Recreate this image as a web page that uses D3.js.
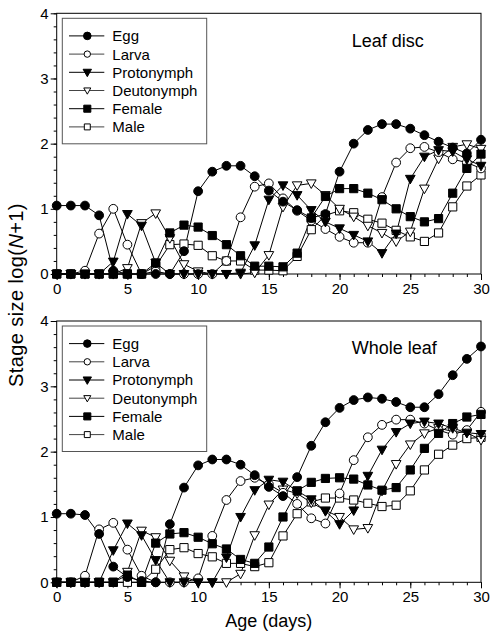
<!DOCTYPE html>
<html>
<head>
<meta charset="utf-8">
<script src="https://cdn.jsdelivr.net/npm/d3@7"></script>
<style>
  body { margin: 0; background: #fff; }
  svg text { font-family: "Liberation Sans", Arial, sans-serif; fill: #000; }
</style>
</head>
<body>
<div id="chart"></div>
<script>
// mite stage sizes by age, leaf disc vs whole leaf

const days = [0,1,2,3,4,5,6,7,8,9,10,11,12,13,14,15,16,17,18,19,20,21,22,23,24,25,26,27,28,29,30];
const stages = ["Egg", "Larva", "Protonymph", "Deutonymph", "Female", "Male"];
const panelLabels = ["Leaf disc", "Whole leaf"];
const xTicks = [0, 5, 10, 15, 20, 25, 30];
const yTicks = [0, 1, 2, 3, 4];

// leaf disc (top)
const discEgg    = [1.05,1.05,1.05,0.9,0.05,0,0,0,0,0.35,1.27,1.57,1.66,1.66,1.5,1.28,1.11,0.98,0.86,0.92,1.57,2.0,2.21,2.30,2.30,2.23,2.13,2.03,1.94,1.85,2.06];
const discLarva  = [0,0,0.05,0.62,1.0,0.45,0,0.04,0,0,0,0,0.2,0.87,1.34,1.39,1.16,0.97,0.82,0.69,0.57,0.48,0.48,1.18,1.71,1.93,1.95,1.87,1.76,1.71,1.62];
const discProto  = [0,0,0,0,0.19,0.92,0.74,0.17,0,0,0,0,0,0.02,0.44,1.14,1.36,1.21,0.98,0.8,0.7,0.6,0.5,0.32,0.62,1.46,1.8,1.9,1.88,1.76,1.66];
const discDeuto  = [0,0,0,0,0,0.09,0.78,0.93,0.55,0.15,0.04,0,0,0,0.02,0.29,1.03,1.36,1.39,1.21,1.0,0.88,0.74,0.63,0.5,0.65,1.31,1.77,1.95,1.99,1.92];
const discFemale = [0,0,0,0,0,0,0,0.17,0.63,0.75,0.72,0.59,0.45,0.28,0.12,0.12,0.11,0.32,0.86,1.19,1.31,1.31,1.24,1.14,1.0,0.88,0.8,0.85,1.24,1.62,1.84];
const discMale   = [0,0,0,0,0,0,0,0.12,0.45,0.46,0.44,0.28,0.2,0.2,0.06,0.06,0.05,0.27,0.68,0.9,0.97,0.94,0.84,0.78,0.67,0.57,0.5,0.63,1.03,1.35,1.52];

// whole leaf (bottom)
const wholeEgg    = [1.05,1.05,1.03,0.74,0.24,0.08,0.02,0,0.89,1.45,1.79,1.88,1.88,1.8,1.64,1.46,1.32,1.61,2.09,2.45,2.67,2.79,2.83,2.81,2.76,2.68,2.68,2.88,3.17,3.42,3.61];
const wholeLarva  = [0,0,0.1,0.81,0.91,0.5,0.1,0,0,0,0.06,0.71,1.26,1.55,1.6,1.5,1.37,1.2,0.98,0.9,1.36,1.87,2.22,2.41,2.49,2.49,2.43,2.33,2.26,2.33,2.61];
const wholeProto  = [0,0,0,0,0.49,0.9,0.72,0.34,0,0,0,0,0.38,1.0,1.41,1.57,1.54,1.4,1.27,1.09,0.89,1.1,1.63,2.03,2.3,2.43,2.46,2.43,2.36,2.29,2.27];
const wholeDeuto  = [0,0,0,0,0,0.16,0.79,0.69,0.33,0.09,0,0,0,0.13,0.72,1.19,1.42,1.36,1.22,1.1,1.0,0.81,0.83,1.4,1.81,2.11,2.28,2.36,2.31,2.29,2.18];
const wholeFemale = [0,0,0,0,0,0.11,0,0.6,0.74,0.76,0.69,0.59,0.51,0.35,0.29,0.54,1.0,1.4,1.53,1.59,1.6,1.58,1.49,1.41,1.45,1.72,2.05,2.28,2.43,2.53,2.57];
const wholeMale   = [0,0,0,0,0,0,0,0.2,0.5,0.53,0.44,0.39,0.29,0.29,0.24,0.3,0.71,1.05,1.23,1.29,1.29,1.26,1.21,1.16,1.18,1.4,1.72,1.96,2.1,2.2,2.22];

// marker look per stage (same order as stages)
const shapes = ["circle", "circle", "tri", "tri", "square", "square"];
const filled = [true, false, true, false, true, false];

const width = 491, height = 633;
const left = 56.7, right = 481;

const panels = [
    { label: panelLabels[0], top: 13.3, bottom: 274, series: [discEgg, discLarva, discProto, discDeuto, discFemale, discMale] },
    { label: panelLabels[1], top: 321, bottom: 582.3, series: [wholeEgg, wholeLarva, wholeProto, wholeDeuto, wholeFemale, wholeMale] }
];

const svg = d3.select("#chart")
    .append("svg")
    .attr("width", width)
    .attr("height", height);

const x = d3.scaleLinear().domain([0, 30]).range([left, right]);

// path for a marker centred on 0,0
function marker(shape, s) {
    if (shape === "circle") return `M${-s},0A${s},${s} 0 1,0 ${s},0A${s},${s} 0 1,0 ${-s},0Z`;
    if (shape === "tri") return `M${-s * 1.1},${-s * 0.8}L${s * 1.1},${-s * 0.8}L0,${s * 1.15}Z`;
    return `M${-s * 0.93},${-s * 0.93}h${s * 1.86}v${s * 1.86}h${-s * 1.86}Z`;
}

panels.forEach(p => {
    const y = d3.scaleLinear().domain([0, 4]).range([p.bottom, p.top]);
    const g = svg.append("g");

    // minor ticks first, then the labelled ones
    const yMinor = g.append("g")
        .attr("transform", `translate(${left},0)`)
        .call(d3.axisLeft(y).tickValues(d3.range(0, 4.001, 0.2)).tickSize(3).tickFormat(""));
    yMinor.select(".domain").remove();

    const yAxis = g.append("g")
        .attr("transform", `translate(${left},0)`)
        .call(d3.axisLeft(y).tickValues(yTicks).tickSize(6).tickPadding(2).tickFormat(d3.format("d")));
    yAxis.select(".domain").remove();

    const xMinor = g.append("g")
        .attr("transform", `translate(0,${p.bottom})`)
        .call(d3.axisBottom(x).tickValues(days).tickSize(3).tickFormat(""));
    xMinor.select(".domain").remove();

    const xAxis = g.append("g")
        .attr("transform", `translate(0,${p.bottom})`)
        .call(d3.axisBottom(x).tickValues(xTicks).tickSize(6).tickPadding(3));
    xAxis.select(".domain").remove();

    g.selectAll(".tick line").attr("stroke", "#000");
    g.selectAll(".tick text")
        .style("font-size", "15px")
        .style("font-family", "'Liberation Sans', Arial, sans-serif");

    // frame
    g.append("rect")
        .attr("x", left)
        .attr("y", p.top)
        .attr("width", right - left)
        .attr("height", p.bottom - p.top)
        .attr("fill", "none")
        .attr("stroke", "#000")
        .attr("stroke-width", 1);

    const line = d3.line()
        .x((d, i) => x(days[i]))
        .y(d => y(d));

    // all lines under the markers
    p.series.forEach(vals => {
        g.append("path")
            .attr("d", line(vals))
            .attr("fill", "none")
            .attr("stroke", "#000")
            .attr("stroke-width", 1);
    });

    // hollow ones first so the filled ones sit on top
    const order = [5, 3, 1, 4, 2, 0];
    order.forEach(k => {
        g.selectAll(null)
            .data(p.series[k])
            .enter()
            .append("path")
            .attr("d", marker(shapes[k], 4.4))
            .attr("transform", (d, i) => `translate(${x(days[i])},${y(d)})`)
            .attr("fill", filled[k] ? "#000" : "#fff")
            .attr("stroke", "#000")
            .attr("stroke-width", 1);
    });

    // legend box
    const legend = g.append("g")
        .attr("transform", `translate(62.3,${p.top + 5})`);

    legend.append("rect")
        .attr("width", 144.4)
        .attr("height", 125.5)
        .attr("fill", "#fff")
        .attr("stroke", "#555")
        .attr("stroke-width", 1);

    stages.forEach((name, k) => {
        const row = legend.append("g")
            .attr("transform", `translate(0,${17.6 + k * 18.2})`);

        row.append("line")
            .attr("x1", 6.7)
            .attr("x2", 42)
            .attr("stroke", filled[k] ? "#000" : "#444")
            .attr("stroke-width", 1);

        row.append("path")
            .attr("d", marker(shapes[k], filled[k] ? 3.8 : 3.2))
            .attr("transform", "translate(25,0)")
            .attr("fill", filled[k] ? "#000" : "#fff")
            .attr("stroke", "#000")
            .attr("stroke-width", 1);

        row.append("text")
            .attr("x", 50)
            .attr("dy", "0.36em")
            .style("font-size", "15px")
            .text(name);
    });

    // panel name
    g.append("text")
        .attr("x", 351.7)
        .attr("y", p.top + 33.3)
        .style("font-size", "18px")
        .text(p.label);
});

// axis titles
svg.append("text")
    .attr("x", (left + right) / 2)
    .attr("y", 627)
    .attr("text-anchor", "middle")
    .style("font-size", "18px")
    .text("Age (days)");

// y title, N in italics like the original
const yTitle = svg.append("text")
    .attr("transform", "translate(22.5,295) rotate(-90)")
    .attr("text-anchor", "middle")
    .style("font-size", "20px")
    .style("letter-spacing", "0.4px");
yTitle.append("tspan").text("Stage size log(");
yTitle.append("tspan").style("font-style", "italic").text("N");
yTitle.append("tspan").text("+1)");
</script>
</body>
</html>
